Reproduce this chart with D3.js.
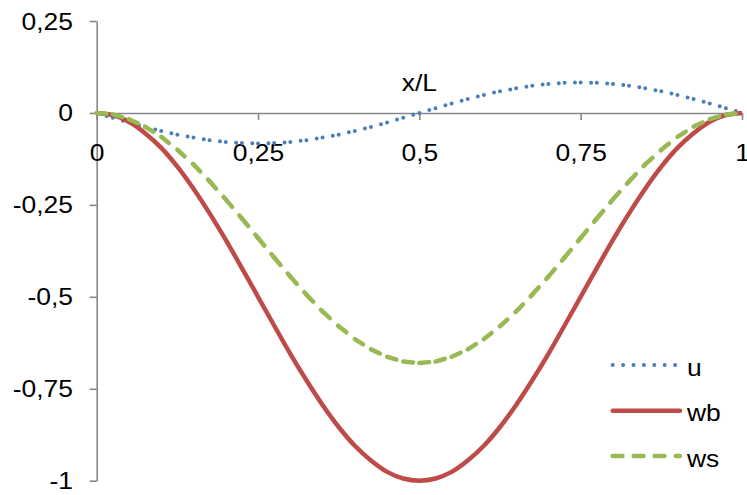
<!DOCTYPE html>
<html><head><meta charset="utf-8">
<script src="https://cdn.jsdelivr.net/npm/d3@7"></script>
<style>
body{margin:0;background:#fff}
text{font-family:"Liberation Sans",Arial,sans-serif;fill:#000}
</style>
</head><body>
<svg id="c" width="747" height="495"></svg>
<script>
// ---- data ----
const xVals = [0,0.025,0.05,0.075,0.1,0.125,0.15,0.175,0.2,0.225,0.25,0.275,0.3,0.325,0.35,0.375,0.4,0.425,0.45,0.475,0.5,0.525,0.55,0.575,0.6,0.625,0.65,0.675,0.7,0.725,0.75,0.775,0.8,0.825,0.85,0.875,0.9,0.925,0.95,0.975,1];
const uVals = [0,-0.013,-0.026,-0.038,-0.049,-0.059,-0.067,-0.074,-0.079,-0.082,-0.083,-0.082,-0.079,-0.074,-0.067,-0.059,-0.049,-0.038,-0.026,-0.013,0,0.013,0.026,0.038,0.049,0.059,0.067,0.074,0.079,0.082,0.083,0.082,0.079,0.074,0.067,0.059,0.049,0.038,0.026,0.013,0];
const wbVals = [0,-0.006,-0.024,-0.055,-0.095,-0.146,-0.206,-0.273,-0.345,-0.422,-0.5,-0.578,-0.655,-0.727,-0.794,-0.854,-0.905,-0.945,-0.976,-0.994,-1,-0.994,-0.976,-0.945,-0.905,-0.854,-0.794,-0.727,-0.655,-0.578,-0.5,-0.422,-0.345,-0.273,-0.206,-0.146,-0.095,-0.055,-0.024,-0.006,0];
const wsVals = [0,-0.004,-0.017,-0.037,-0.065,-0.100,-0.140,-0.186,-0.235,-0.287,-0.340,-0.393,-0.445,-0.494,-0.540,-0.580,-0.615,-0.643,-0.663,-0.676,-0.680,-0.676,-0.663,-0.643,-0.615,-0.580,-0.540,-0.494,-0.445,-0.393,-0.340,-0.287,-0.235,-0.186,-0.140,-0.100,-0.065,-0.037,-0.017,-0.004,0];
const xTicks = [0,0.25,0.5,0.75,1];
const xTickLabels = ["0","0,25","0,5","0,75","1"];
const yTicks = [-1,-0.75,-0.5,-0.25,0,0.25];
const yTickLabels = ["-1","-0,75","-0,5","-0,25","0","0,25"];
const seriesNames = ["u","wb","ws"];
const xTitle = "x/L";

// ---- layout ----
const svg = d3.select("#c");
const X0 = 96.7, X1 = 742, YT = 21, YB = 480.7;
const x = d3.scaleLinear().domain([0,1]).range([X0,X1]);
const y = d3.scaleLinear().domain([-1,0.25]).range([YB,YT]);
const SX = 1.15, FS = 23;
const axisCol = "#878787";

// y axis
const gy = svg.append("g").attr("transform",`translate(${X0},0)`)
  .call(d3.axisLeft(y).tickValues(yTicks).tickSize(7).tickSizeOuter(0)
    .tickFormat((d,i)=>yTickLabels[i]));
// x axis
const gx = svg.append("g").attr("transform",`translate(0,${y(0)})`)
  .call(d3.axisBottom(x).tickValues(xTicks).tickSize(7).tickSizeOuter(0)
    .tickFormat((d,i)=>xTickLabels[i]));

[gy,gx].forEach(g=>{
  g.select(".domain").attr("stroke",axisCol).attr("stroke-width",1.6);
  g.selectAll(".tick line").attr("stroke",axisCol).attr("stroke-width",1.6);
  g.selectAll("text").attr("font-size",FS).attr("font-family","Liberation Sans, Arial, sans-serif")
    .attr("fill","#000").attr("x",null).attr("y",null).attr("dy",null);
});
gy.selectAll(".tick text").attr("text-anchor","end")
  .attr("transform",`translate(${73-X0},8) scale(${SX},1)`);
gx.selectAll(".tick text").attr("text-anchor","middle")
  .attr("transform",`translate(0,${161-y(0)}) scale(${SX},1)`);

// axis title
svg.append("text").attr("text-anchor","middle").attr("font-size",FS)
  .attr("transform",`translate(${x(0.5)},91) scale(${SX},1)`).text(xTitle);

// ---- series ----
const pts = vals => xVals.map((xv,i)=>[xv, vals[i]]);
const line = d3.line().x(d=>x(d[0])).y(d=>y(d[1]));
const gl = svg.append("g").attr("fill","none");

// u: dotted, pattern restarts on every segment
const uP = pts(uVals);
for (let i=0;i<uP.length-1;i++){
  gl.append("path").attr("d",line([uP[i],uP[i+1]]))
    .attr("stroke","#4a7ebb").attr("stroke-width",4)
    .attr("stroke-linecap","round").attr("stroke-dasharray","0,10.4");
}
// wb: solid
gl.append("path").attr("d",d3.line().x(d=>x(d[0])).y(d=>y(d[1])).curve(d3.curveCatmullRom)(pts(wbVals)))
  .attr("stroke","#be4b48").attr("stroke-width",4.5).attr("stroke-linejoin","round");
// ws: dashed, pattern restarts on every segment
const wsP = pts(wsVals);
for (let i=0;i<wsP.length-1;i++){
  gl.append("path").attr("d",line([wsP[i],wsP[i+1]]))
    .attr("stroke","#98b954").attr("stroke-width",4.5)
    .attr("stroke-linecap","round").attr("stroke-dasharray","9.8,11.2");
}

// ---- legend ----
const leg = [
  {name:seriesNames[0], col:"#4a7ebb", w:4, dash:"0,10.4", cap:"round", yy:365},
  {name:seriesNames[1], col:"#be4b48", w:4.5, dash:null, cap:"round", yy:410.7},
  {name:seriesNames[2], col:"#98b954", w:4.5, dash:"9.8,11.2", cap:"round", yy:456}
];
const lg = svg.append("g");
leg.forEach(l=>{
  lg.append("line").attr("x1",612.7).attr("x2",680).attr("y1",l.yy).attr("y2",l.yy)
    .attr("stroke",l.col).attr("stroke-width",l.w).attr("stroke-linecap",l.cap)
    .attr("stroke-dasharray",l.dash);
  lg.append("text").attr("font-size",FS)
    .attr("transform",`translate(687,${l.yy+10.5}) scale(${SX},1)`).text(l.name);
});
</script>
</body></html>
